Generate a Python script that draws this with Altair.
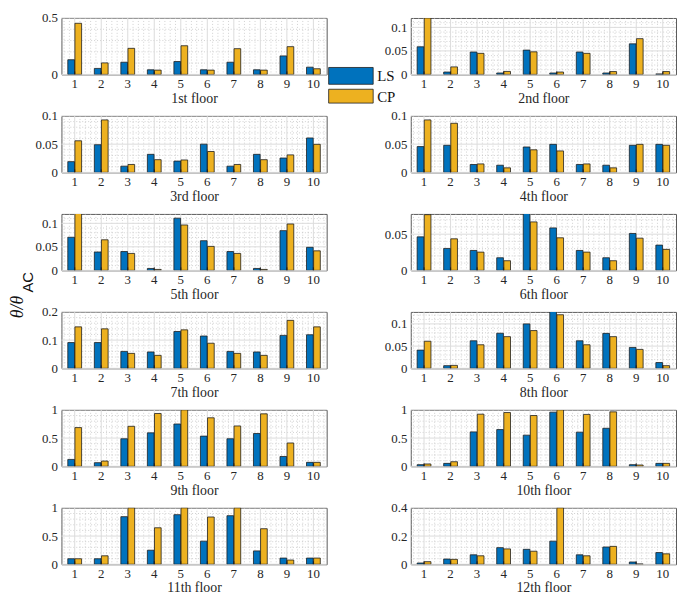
import altair as alt
import pandas as pd
import numpy as np

categories = list(range(1, 11))
series = ["LS", "CP"]
floor_titles = ["1st floor", "2nd floor", "3rd floor", "4th floor", "5th floor", "6th floor",
                "7th floor", "8th floor", "9th floor", "10th floor", "11th floor", "12th floor"]

ls_f1 = [0.13, 0.053, 0.108, 0.041, 0.114, 0.041, 0.108, 0.041, 0.164, 0.064]
cp_f1 = [0.453, 0.102, 0.231, 0.038, 0.254, 0.038, 0.228, 0.038, 0.246, 0.05]
ls_f2 = [0.0587, 0.005, 0.0476, 0.003, 0.0517, 0.003, 0.0476, 0.003, 0.065, 0.001]
cp_f2 = [0.12, 0.016, 0.0448, 0.0063, 0.048, 0.005, 0.0448, 0.006, 0.076, 0.006]
ls_f3 = [0.019, 0.049, 0.011, 0.032, 0.020, 0.050, 0.011, 0.032, 0.0254, 0.061]
cp_f3 = [0.056, 0.093, 0.014, 0.0225, 0.022, 0.037, 0.014, 0.0225, 0.031, 0.0497]
ls_f4 = [0.0457, 0.048, 0.0139, 0.0127, 0.045, 0.0497, 0.014, 0.0127, 0.048, 0.0497]
cp_f4 = [0.093, 0.087, 0.015, 0.008, 0.040, 0.038, 0.015, 0.008, 0.0497, 0.048]
ls_f5 = [0.0704, 0.039, 0.040, 0.004, 0.111, 0.063, 0.040, 0.004, 0.0845, 0.049]
cp_f5 = [0.125, 0.065, 0.036, 0.002, 0.0965, 0.051, 0.036, 0.002, 0.0986, 0.0415]
ls_f6 = [0.0463, 0.0303, 0.0275, 0.0174, 0.08, 0.0587, 0.0275, 0.0174, 0.051, 0.0349]
cp_f6 = [0.077, 0.0436, 0.0252, 0.0133, 0.067, 0.045, 0.0252, 0.0133, 0.0445, 0.029]
ls_f7 = [0.0913, 0.0913, 0.060, 0.058, 0.1306, 0.1145, 0.060, 0.058, 0.1168, 0.119]
cp_f7 = [0.147, 0.14, 0.053, 0.046, 0.1364, 0.089, 0.053, 0.046, 0.17, 0.147]
ls_f8 = [0.041, 0.006, 0.062, 0.079, 0.1, 0.13, 0.062, 0.0787, 0.047, 0.013]
cp_f8 = [0.061, 0.0066, 0.053, 0.0713, 0.085, 0.1206, 0.053, 0.0713, 0.0426, 0.006]
ls_f9 = [0.122, 0.064, 0.488, 0.593, 0.75, 0.535, 0.488, 0.581, 0.174, 0.07]
cp_f9 = [0.686, 0.093, 0.709, 0.936, 1.0, 0.86, 0.715, 0.93, 0.413, 0.07]
ls_f10 = [0.029, 0.052, 0.61, 0.651, 0.552, 0.96, 0.605, 0.674, 0.029, 0.052]
cp_f10 = [0.041, 0.081, 0.924, 0.953, 0.90, 1.0, 0.92, 0.965, 0.023, 0.052]
ls_f11 = [0.098, 0.098, 0.844, 0.249, 0.879, 0.41, 0.861, 0.237, 0.11, 0.11]
cp_f11 = [0.098, 0.15, 1.0, 0.647, 1.0, 0.838, 1.0, 0.63, 0.075, 0.11]
ls_f12 = [0.009, 0.037, 0.067, 0.118, 0.106, 0.164, 0.067, 0.1225, 0.016, 0.083]
cp_f12 = [0.0185, 0.035, 0.06, 0.109, 0.0925, 0.4, 0.06, 0.127, 0.002, 0.074]

ls_all = [ls_f1, ls_f2, ls_f3, ls_f4, ls_f5, ls_f6, ls_f7, ls_f8, ls_f9, ls_f10, ls_f11, ls_f12]
cp_all = [cp_f1, cp_f2, cp_f3, cp_f4, cp_f5, cp_f6, cp_f7, cp_f8, cp_f9, cp_f10, cp_f11, cp_f12]

y_max = [0.5, 0.12, 0.1, 0.1, 0.12, 0.078, 0.2, 0.127, 1, 1, 1, 0.4]
y_ticks = [[0, 0.5], [0, 0.05, 0.1], [0, 0.05, 0.1], [0, 0.05, 0.1], [0, 0.05, 0.1], [0, 0.05],
           [0, 0.1, 0.2], [0, 0.05, 0.1], [0, 0.5, 1], [0, 0.5, 1], [0, 0.5, 1], [0, 0.2, 0.4]]
y_minor_step = [0.1, 0.01, 0.01, 0.01, 0.01, 0.01, 0.02, 0.01, 0.1, 0.1, 0.1, 0.04]

W, H = 268, 57
BLUE = "#0072BD"
GOLD = "#EDB120"
EDGE = "#1e1e1e"
FONT = "Liberation Serif"
MAJOR_GRID = "#dcdcdc"
MINOR_GRID = "#bdbdbd"


def panel(i):
    df = pd.DataFrame({
        "cat": categories * 2,
        "series": [series[0]] * 10 + [series[1]] * 10,
        "val": ls_all[i] + cp_all[i],
    })
    ymax = y_max[i]
    yscale = alt.Scale(domain=[0, ymax], nice=False, zero=True)
    yaxis = alt.Axis(values=y_ticks[i], format="~g", title=None)
    xq = alt.Scale(domain=[0.5, 10.5], nice=False, zero=False)

    mx = [round(v, 2) for v in np.arange(0.6, 10.5, 0.2) if abs(v - round(v)) > 0.05]
    my = [round(v, 4) for v in np.arange(0, ymax, y_minor_step[i])
          if min(abs(v - t) for t in y_ticks[i]) > 1e-6 and v > 1e-9]

    bars = alt.Chart(df).mark_bar(stroke=EDGE, strokeWidth=0.8, clip=True).encode(
        x=alt.X("cat:O",
                scale=alt.Scale(paddingInner=0.48, paddingOuter=0.24),
                axis=alt.Axis(title=floor_titles[i], labelAngle=0)),
        xOffset=alt.XOffset("series:N", sort=series,
                            scale=alt.Scale(domain=series, paddingInner=0.06)),
        y=alt.Y("val:Q", scale=yscale, axis=yaxis),
        color=alt.Color("series:N", scale=alt.Scale(domain=series, range=[BLUE, GOLD]), legend=None),
    )

    minor_x = alt.Chart(pd.DataFrame({"v": mx})).mark_rule(
        color=MINOR_GRID, strokeDash=[1, 2], strokeWidth=0.7
    ).encode(x=alt.X("v:Q", scale=xq, axis=None))
    minor_y = alt.Chart(pd.DataFrame({"val": my})).mark_rule(
        color=MINOR_GRID, strokeDash=[1, 2], strokeWidth=0.7
    ).encode(y=alt.Y("val:Q", scale=yscale, axis=yaxis))
    major_x = alt.Chart(pd.DataFrame({"v": categories})).mark_rule(
        color=MAJOR_GRID, strokeWidth=1
    ).encode(x=alt.X("v:Q", scale=xq, axis=None))
    major_y = alt.Chart(pd.DataFrame({"val": y_ticks[i]})).mark_rule(
        color=MAJOR_GRID, strokeWidth=1
    ).encode(y=alt.Y("val:Q", scale=yscale, axis=yaxis))

    ticks = alt.Chart(pd.DataFrame({"v": categories})).mark_rule(
        color=EDGE, strokeWidth=1
    ).encode(x=alt.X("v:Q", scale=xq, axis=None), y=alt.value(H), y2=alt.value(H - 3))

    layers = [minor_x, minor_y, major_x, major_y, bars, ticks]

    if i == 0:
        leg_ls = alt.Chart(pd.DataFrame({"s": [series[0]]})).mark_rect(
            fill=BLUE, stroke=EDGE, strokeWidth=0.8
        ).encode(x=alt.value(270), x2=alt.value(315), y=alt.value(50), y2=alt.value(67))
        leg_cp = alt.Chart(pd.DataFrame({"s": [series[1]]})).mark_rect(
            fill=GOLD, stroke=EDGE, strokeWidth=0.8
        ).encode(x=alt.value(270), x2=alt.value(315), y=alt.value(72), y2=alt.value(86))
        txt_ls = alt.Chart(pd.DataFrame({"s": [series[0]]})).mark_text(
            font=FONT, fontSize=15, align="left", baseline="middle", color="#111"
        ).encode(text="s:N", x=alt.value(319), y=alt.value(59))
        txt_cp = alt.Chart(pd.DataFrame({"s": [series[1]]})).mark_text(
            font=FONT, fontSize=15, align="left", baseline="middle", color="#111"
        ).encode(text="s:N", x=alt.value(319), y=alt.value(80))
        layers += [leg_ls, leg_cp, txt_ls, txt_cp]

    if i == 6:
        lab1 = alt.Chart(pd.DataFrame({"t": ["θ/θ"]})).mark_text(
            font=FONT, fontSize=18, fontStyle="italic", angle=270, align="center",
            baseline="alphabetic", color="#111"
        ).encode(text="t:N", x=alt.value(-39), y=alt.value(-5))
        lab2 = alt.Chart(pd.DataFrame({"t": ["AC"]})).mark_text(
            font="Liberation Sans", fontSize=15, angle=270, align="center",
            baseline="alphabetic", color="#111"
        ).encode(text="t:N", x=alt.value(-29), y=alt.value(-30))
        layers += [lab1, lab2]

    return alt.layer(*layers).resolve_scale(x="independent").properties(width=W, height=H)


panels = [panel(i) for i in range(12)]

chart = alt.concat(
    *panels, columns=2, spacing={"row": 42, "column": 85}, bounds="flush"
).properties(
    padding=0
).configure_view(
    stroke="#5a5a5a", strokeWidth=1
).configure_axis(
    labelFont=FONT, labelFontSize=13, labelColor="#262626",
    titleFont=FONT, titleFontSize=14, titleFontWeight="normal", titleColor="#262626",
    domain=False, ticks=False, grid=False,
).configure_axisX(
    labelPadding=3, titlePadding=1,
).configure_axisY(
    labelPadding=4,
)

chart.save("out.html", embed_options={"renderer": "svg", "actions": False})
